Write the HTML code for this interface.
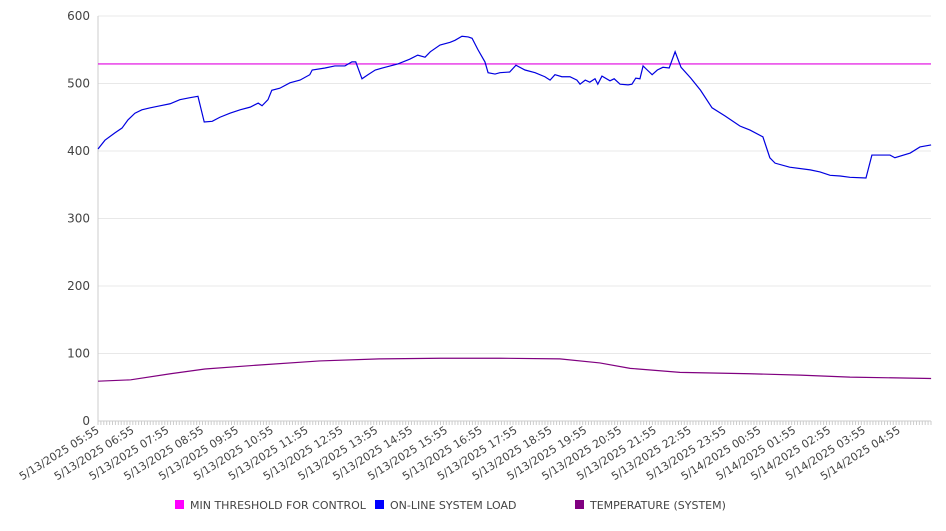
<!DOCTYPE html>
<html><head><meta charset="utf-8"><style>
body{margin:0;background:#fff;font-family:"Liberation Sans","DejaVu Sans",sans-serif;}
svg text{font-family:"DejaVu Sans","Liberation Sans",sans-serif;}
</style></head><body>
<svg id="chart" width="946" height="526" xmlns="http://www.w3.org/2000/svg"></svg>
<script>
const yTicks=[0,100,200,300,400,500,600];
const xLabels=["5/13/2025 05:55","5/13/2025 06:55","5/13/2025 07:55","5/13/2025 08:55","5/13/2025 09:55","5/13/2025 10:55","5/13/2025 11:55","5/13/2025 12:55","5/13/2025 13:55","5/13/2025 14:55","5/13/2025 15:55","5/13/2025 16:55","5/13/2025 17:55","5/13/2025 18:55","5/13/2025 19:55","5/13/2025 20:55","5/13/2025 21:55","5/13/2025 22:55","5/13/2025 23:55","5/14/2025 00:55","5/14/2025 01:55","5/14/2025 02:55","5/14/2025 03:55","5/14/2025 04:55"];
const threshold=529;
const loadHours=[0,.2,.49,.69,.86,1.06,1.26,1.5,1.78,2.07,2.35,2.64,2.87,3.05,3.28,3.5,3.79,4.08,4.37,4.6,4.71,4.88,4.99,5.22,5.51,5.8,6.08,6.15,6.52,6.8,7.09,7.29,7.4,7.58,7.75,7.96,8.24,8.61,8.95,9.18,9.39,9.54,9.82,10.11,10.25,10.45,10.63,10.74,10.91,11.11,11.2,11.4,11.54,11.82,12.0,12.26,12.55,12.83,12.98,13.12,13.32,13.55,13.75,13.84,13.99,14.12,14.27,14.35,14.47,14.7,14.82,14.99,15.22,15.33,15.44,15.56,15.65,15.77,15.91,16.06,16.22,16.4,16.57,16.74,17.02,17.3,17.63,18.0,18.43,18.72,19.09,19.29,19.44,19.86,20.45,20.73,21.02,21.31,21.59,22.05,22.22,22.74,22.88,23.32,23.6,23.92];
const loadValues=[403,416,427,434,446,456,461,464,467,470,476,479,481,443,444,450,456,461,465,471,467,476,490,493,501,505,513,520,523,526,526,532,532,507,513,520,524,529,536,542,539,547,557,561,564,570,569,567,550,532,516,514,516,517,527,520,516,510,505,513,510,510,505,499,505,502,507,499,511,504,507,499,498,499,508,507,526,520,513,520,524,523,547,524,508,490,464,452,437,431,421,390,382,376,372,369,364,363,361,360,394,394,390,397,406,409];
const tempHours=[0,.94,2.08,3.07,4.64,6.36,8.08,9.82,11.54,13.26,14.41,15.28,16.71,18.72,20.16,21.59,23.92];
const tempValues=[59,61,70,77,83,89,92,93,93,92,86,78,72,70,68,65,63];
const L=98,R=931,T=16,B=421,maxH=23.917,maxY=600;
const sx=h=>L+(R-L)*h/maxH, sy=v=>B-(B-T)*v/maxY;
const svg=document.getElementById('chart');const NS='http://www.w3.org/2000/svg';
function mk(t,a,p){const e=document.createElementNS(NS,t);for(const k in a)e.setAttribute(k,a[k]);(p||svg).appendChild(e);return e;}
yTicks.forEach(v=>{
 const g=mk('line',{x1:L,x2:R,y1:sy(v),y2:sy(v),stroke:v===0?'#ccc':'#e8e8e8','stroke-width':1});
 
 
 const t=mk('text',{x:L-8,y:sy(v)+4,'text-anchor':'end','font-size':12,fill:'#444'});t.textContent=v;
 
 
});
const ax=mk('line',{x1:L,x2:L,y1:T,y2:B,stroke:'#ccc'});


for(let i=0;i<=287;i++){const x=sx(i/12);const tk=mk('line',{x1:x,x2:x,y1:B,y2:B+4,stroke:'#ccc'});
 
 }
xLabels.forEach((s,i)=>{const x=sx(i);const t=mk('text',{x:x+2,y:B+11,'text-anchor':'end','font-size':11,fill:'#444',transform:`rotate(-32 ${x+2} ${B+11})`});t.textContent=s;
 
 });
const th=mk('line',{x1:L,x2:R,y1:sy(threshold),y2:sy(threshold),stroke:'#e000e0','stroke-width':1.2});


const lp=mk('polyline',{points:loadHours.map((h,i)=>sx(h)+','+sy(loadValues[i])).join(' '),fill:'none',stroke:'#0000e0','stroke-width':1.2});


const tp=mk('polyline',{points:tempHours.map((h,i)=>sx(h)+','+sy(tempValues[i])).join(' '),fill:'none',stroke:'#800080','stroke-width':1.2});


const leg=[["MIN THRESHOLD FOR CONTROL","#ff00ff",175],["ON-LINE SYSTEM LOAD","#0000ff",375],["TEMPERATURE (SYSTEM)","#800080",575]];
leg.forEach(l=>{const g=mk('g',{});
 
 
 mk('rect',{x:l[2],y:500,width:9,height:9,fill:l[1]},g);
 const t=mk('text',{x:l[2]+15,y:509,'font-size':11,fill:'#444'},g);t.textContent=l[0];});
</script>
</body></html>
